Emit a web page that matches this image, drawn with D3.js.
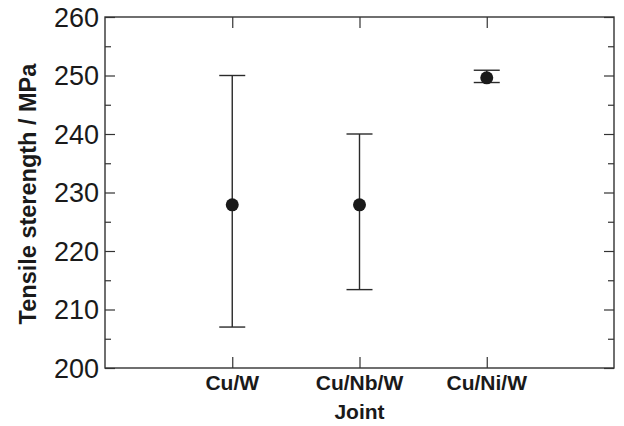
<!DOCTYPE html>
<html>
<head>
<meta charset="utf-8">
<style>
    body { margin: 0; background: #fff; }
    svg { display: block; }
    .axis text { font-family: "Liberation Sans", Arial, sans-serif; fill: #1a1a1a; }
    .axis .domain { display: none; }
    .axis .tick line { stroke: #333; stroke-width: 1.2; }
    .label { font-family: "Liberation Sans", Arial, sans-serif; font-weight: bold; fill: #1a1a1a; }
</style>
</head>
<body>
<svg width="624" height="426"></svg>
<script src="https://cdnjs.cloudflare.com/ajax/libs/d3/7.8.5/d3.min.js"></script>
<script>
// values
let joints = ["Cu/W", "Cu/Nb/W", "Cu/Ni/W"];
let means  = [227.9, 227.9, 249.6];
let upper  = [250, 240, 250.9];
let lower  = [207, 213.4, 248.8];
let yTicks = [200, 210, 220, 230, 240, 250, 260];
let yMinor = [205, 215, 225, 235, 245, 255];

let width = 624, height = 426;
let margin = { top: 17, right: 10, bottom: 58, left: 105 };

let svg = d3.select("svg");

// joints sit at 1, 2, 3 on a 0..4 axis
let x = d3.scaleLinear()
    .domain([0, 4])
    .range([margin.left, width - margin.right]);

let y = d3.scaleLinear()
    .domain([200, 260])
    .range([height - margin.bottom, margin.top]);

let pos = joints.map((d, i) => i + 1);

// frame
svg.append("rect")
    .attr("x", x(0))
    .attr("y", y(260))
    .attr("width", x(4) - x(0))
    .attr("height", y(200) - y(260))
    .attr("fill", "none")
    .attr("stroke", "#333")
    .attr("stroke-width", 1.4);

// left axis, ticks point inward
svg.append("g")
    .attr("class", "axis")
    .attr("transform", `translate(${x(0)},0)`)
    .call(d3.axisRight(y).tickValues(yTicks).tickSize(10).tickFormat(""));

svg.append("g")
    .attr("class", "axis")
    .attr("transform", `translate(${x(0)},0)`)
    .call(d3.axisRight(y).tickValues(yMinor).tickSize(6).tickFormat(""));

// tick labels on the left
svg.append("g")
    .attr("class", "axis")
    .selectAll("text")
    .data(yTicks)
    .join("text")
    .attr("x", x(0) - 6)
    .attr("y", d => y(d))
    .attr("dy", "0.36em")
    .attr("text-anchor", "end")
    .style("font-size", "27px")
    .text(d => d);

// right axis
svg.append("g")
    .attr("class", "axis")
    .attr("transform", `translate(${x(4)},0)`)
    .call(d3.axisLeft(y).tickValues(yTicks).tickSize(10).tickFormat(""));

svg.append("g")
    .attr("class", "axis")
    .attr("transform", `translate(${x(4)},0)`)
    .call(d3.axisLeft(y).tickValues(yMinor).tickSize(6).tickFormat(""));

// bottom and top ticks at each joint
svg.append("g")
    .attr("class", "axis")
    .attr("transform", `translate(0,${y(200)})`)
    .call(d3.axisTop(x).tickValues(pos).tickSize(11).tickFormat(""));

svg.append("g")
    .attr("class", "axis")
    .attr("transform", `translate(0,${y(260)})`)
    .call(d3.axisBottom(x).tickValues(pos).tickSize(11).tickFormat(""));

// category labels
svg.append("g")
    .selectAll("text")
    .data(joints)
    .join("text")
    .attr("class", "label")
    .attr("x", (d, i) => x(pos[i]))
    .attr("y", 390)
    .attr("text-anchor", "middle")
    .style("font-size", "21px")
    .text(d => d);

svg.append("text")
    .attr("class", "label")
    .attr("x", x(2))
    .attr("y", 419)
    .attr("text-anchor", "middle")
    .style("font-size", "21px")
    .text("Joint");

svg.append("text")
    .attr("class", "label")
    .attr("transform", "translate(36,194) rotate(-90)")
    .attr("text-anchor", "middle")
    .style("font-size", "23.5px")
    .text("Tensile sterength / MPa");

// error bars
let capW = 13;
let bars = svg.append("g")
    .attr("stroke", "#2a2a2a")
    .attr("stroke-width", 1.4);

bars.selectAll(".stem")
    .data(joints)
    .join("line")
    .attr("x1", (d, i) => x(pos[i]))
    .attr("x2", (d, i) => x(pos[i]))
    .attr("y1", (d, i) => y(upper[i]))
    .attr("y2", (d, i) => y(lower[i]));

bars.selectAll(".capHi")
    .data(joints)
    .join("line")
    .attr("x1", (d, i) => x(pos[i]) - capW)
    .attr("x2", (d, i) => x(pos[i]) + capW)
    .attr("y1", (d, i) => y(upper[i]))
    .attr("y2", (d, i) => y(upper[i]));

bars.selectAll(".capLo")
    .data(joints)
    .join("line")
    .attr("x1", (d, i) => x(pos[i]) - capW)
    .attr("x2", (d, i) => x(pos[i]) + capW)
    .attr("y1", (d, i) => y(lower[i]))
    .attr("y2", (d, i) => y(lower[i]));

svg.append("g")
    .selectAll("circle")
    .data(joints)
    .join("circle")
    .attr("cx", (d, i) => x(pos[i]))
    .attr("cy", (d, i) => y(means[i]))
    .attr("r", 6.5)
    .attr("fill", "#1a1a1a");
</script>
</body>
</html>
